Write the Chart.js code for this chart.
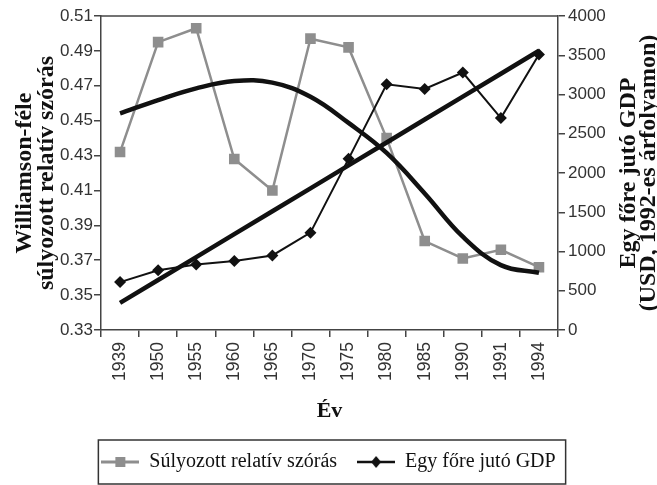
<!DOCTYPE html>
<html>
<head>
<meta charset="utf-8">
<script src="https://cdn.jsdelivr.net/npm/chart.js@4"></script>
<style>
html,body{margin:0;padding:0;background:#fff}
#wrap{width:657px;height:485px}
</style>
</head>
<body>
<div id="wrap"><canvas id="chart"></canvas></div>
<script>
var years=['1939','1950','1955','1960','1965','1970','1975','1980','1985','1990','1991','1994'];
var szoras=[0.432,0.495,0.503,0.428,0.410,0.497,0.492,0.440,0.381,0.371,0.376,0.366];
var gdp=[610,760,835,880,950,1240,2180,3130,3070,3280,2700,3510];
// trendlines
var szorasTrend=[0.4542,0.4618,0.4685,0.4727,0.4718,0.4637,0.4487,0.4315,0.4083,0.3835,0.3672,0.3628];
var gdpTrend=[345,637,929,1221,1513,1805,2097,2389,2681,2973,3265,3557];
var leftTicks=[0.33,0.35,0.37,0.39,0.41,0.43,0.45,0.47,0.49,0.51];
var rightTicks=[0,500,1000,1500,2000,2500,3000,3500,4000];
var leftTitle=['Williamson-féle','súlyozott relatív szórás'];
var rightTitle=['Egy főre jutó GDP','(USD, 1992-es árfolyamon)'];
var xTitle='Év';

var gray='#8e8e8e';
var black='#111';

function makeIcon(kind){
  var c=document.createElement('canvas');
  c.width=38;c.height=14;
  var g=c.getContext('2d');
  g.strokeStyle=kind=='sq'?gray:black;
  g.fillStyle=g.strokeStyle;
  g.lineWidth=kind=='sq'?3:2.5;
  g.beginPath();g.moveTo(0,7);g.lineTo(38,7);g.stroke();
  if(kind=='sq'){
    g.fillRect(14,2,10,10);
  } else {
    g.beginPath();g.moveTo(19,1);g.lineTo(24,7);g.lineTo(19,13);g.lineTo(14,7);g.closePath();g.fill();
  }
  return c;
}
var icons=[makeIcon('sq'),makeIcon('dia')];

var extras={
  id:'extras',
  afterDraw:function(chart){
    var ctx=chart.ctx, a=chart.chartArea;
    ctx.save();
    // top frame line
    ctx.strokeStyle='#444';ctx.lineWidth=1.5;
    ctx.beginPath();ctx.moveTo(a.left,a.top);ctx.lineTo(a.right,a.top);ctx.stroke();
    // right axis title, reading bottom to top
    ctx.fillStyle=black;
    ctx.font='bold 24px "Liberation Serif"';
    ctx.textAlign='center';ctx.textBaseline='middle';
    ctx.translate(629,(a.top+a.bottom)/2);
    ctx.rotate(-Math.PI/2);
    ctx.fillText(rightTitle[0],0,0);
    ctx.fillText(rightTitle[1],0,20);
    ctx.restore();
    // legend frame
    var hb=chart.legend.legendHitBoxes;
    if(hb&&hb.length){
      var l=hb[0].left-3, r=hb[hb.length-1].left+hb[hb.length-1].width+10;
      var mid=hb[0].top+hb[0].height/2;
      ctx.save();
      ctx.strokeStyle='#333';ctx.lineWidth=1.5;
      ctx.strokeRect(l,mid-22,r-l,44);
      ctx.restore();
    }
  }
};

new Chart(document.getElementById('chart'),{
  type:'line',
  data:{
    labels:years,
    datasets:[
      {label:'Súlyozott relatív szórás',data:szoras,yAxisID:'y',borderColor:gray,backgroundColor:gray,
       borderWidth:2.5,pointStyle:'rect',pointRadius:7.5,pointBorderWidth:0,tension:0,order:3},
      {label:'Egy főre jutó GDP',data:gdp,yAxisID:'y1',borderColor:black,backgroundColor:black,
       borderWidth:2,pointStyle:'rectRot',pointRadius:6,pointBorderWidth:0,tension:0,order:2},
      {label:'trend1',data:szorasTrend,yAxisID:'y',borderColor:black,borderWidth:4.5,pointRadius:0,tension:0.4,order:1},
      {label:'trend2',data:gdpTrend,yAxisID:'y1',borderColor:black,borderWidth:4.5,pointRadius:0,tension:0,order:1}
    ]
  },
  options:{
    responsive:true,
    maintainAspectRatio:false,
    animation:false,
    layout:{padding:{top:16,left:0,right:0,bottom:3}},
    plugins:{
      tooltip:{enabled:false},
      legend:{
        position:'bottom',
        labels:{
          usePointStyle:true,
          pointStyleWidth:38,
          padding:20,
          color:black,
          font:{family:'Liberation Serif',size:20},
          generateLabels:function(chart){
            var items=Chart.defaults.plugins.legend.labels.generateLabels(chart);
            items.forEach(function(it){ if(it.datasetIndex<2) it.pointStyle=icons[it.datasetIndex]; });
            items.sort(function(p,q){ return p.datasetIndex-q.datasetIndex; });
            return items;
          },
          filter:function(it){ return it.datasetIndex<2; }
        }
      }
    },
    scales:{
      x:{
        offset:true,
        grid:{display:true,drawOnChartArea:false,offset:true,tickLength:7,color:'#444',lineWidth:1.5},
        border:{color:'#444',width:1.5},
        ticks:{color:'#333',font:{family:'Liberation Sans',size:17.5},minRotation:90,maxRotation:90,padding:5},
        title:{display:true,text:xTitle,color:black,font:{family:'Liberation Serif',size:22,weight:'bold'},padding:{top:4,bottom:7}},
        afterFit:function(s){ s.height=102; }
      },
      y:{
        position:'left',
        min:0.33,max:0.51,
        afterBuildTicks:function(s){ s.ticks=leftTicks.map(function(v){return {value:v};}); },
        grid:{display:true,drawOnChartArea:false,tickLength:7,color:'#444',lineWidth:1.5},
        border:{color:'#444',width:1.5},
        ticks:{color:'#333',font:{family:'Liberation Sans',size:17},padding:1,callback:function(v){return v.toFixed(2);}},
        title:{display:true,text:leftTitle,color:black,font:{family:'Liberation Serif',size:24,weight:'bold',lineHeight:0.92},padding:{top:14,bottom:0}},
        afterFit:function(s){ s.width=101; }
      },
      y1:{
        position:'right',
        min:0,max:4000,
        afterBuildTicks:function(s){ s.ticks=rightTicks.map(function(v){return {value:v};}); },
        grid:{display:true,drawOnChartArea:false,tickLength:7,color:'#444',lineWidth:1.5},
        border:{color:'#444',width:1.5},
        ticks:{color:'#333',font:{family:'Liberation Sans',size:17},padding:3,callback:function(v){return String(v);}},
        afterFit:function(s){ s.width=99; }
      }
    }
  },
  plugins:[extras]
});
</script>
</body>
</html>
